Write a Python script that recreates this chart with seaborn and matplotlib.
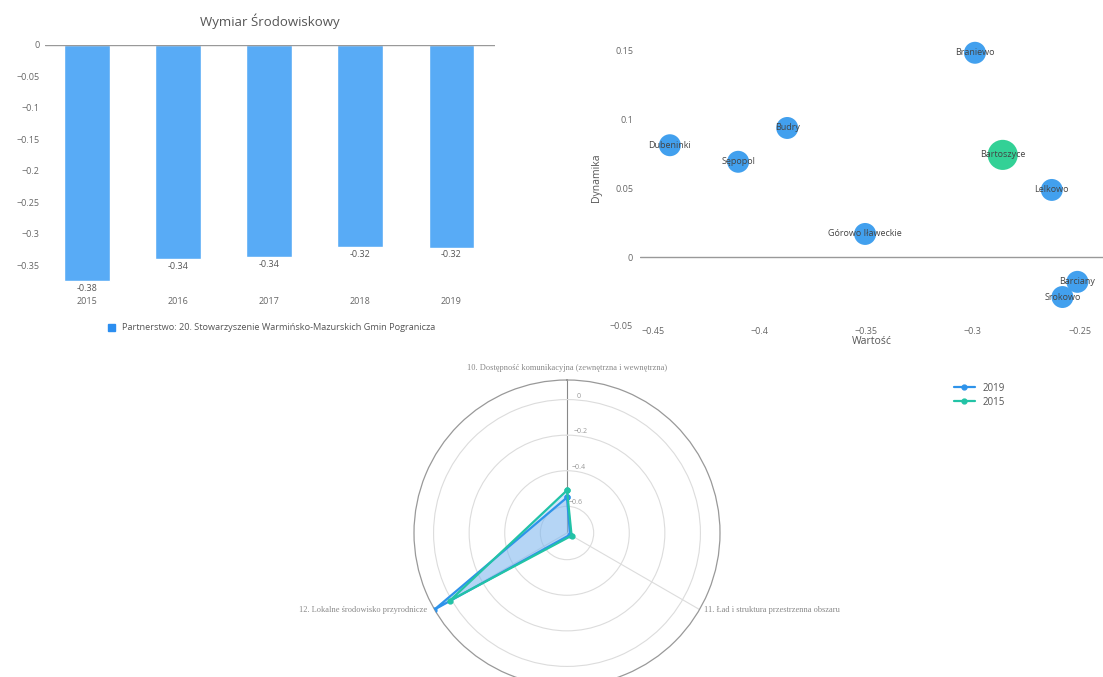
import numpy as np
import pandas as pd
import matplotlib
matplotlib.use("Agg")
import matplotlib.pyplot as plt
from matplotlib.patches import Patch
from matplotlib.lines import Line2D
import seaborn as sns

# --- dane: wykres slupkowy ---
lata = ["2015", "2016", "2017", "2018", "2019"]
wymiar_srod = [-0.375, -0.34, -0.337, -0.321, -0.322]
etykiety_slupkow = ["-0.38", "-0.34", "-0.34", "-0.32", "-0.32"]
nazwa_partnerstwa = "Partnerstwo: 20. Stowarzyszenie Warmińsko-Mazurskich Gmin Pogranicza"

# --- dane: wykres punktowy ---
gminy = ["Braniewo", "Budry", "Dubeninki", "Sępopol", "Bartoszyce",
         "Lelkowo", "Górowo Iławeckie", "Barciany", "Srokowo"]
wartosc = [-0.299, -0.387, -0.442, -0.410, -0.286, -0.263, -0.3505, -0.251, -0.258]
dynamika = [0.148, 0.0935, 0.081, 0.069, 0.074, 0.0486, 0.0167, -0.018, -0.029]
grupa = ["gmina", "gmina", "gmina", "gmina", "wybrana",
         "gmina", "gmina", "gmina", "gmina"]

# --- dane: wykres radarowy ---
wymiary = ["10. Dostępność komunikacyjna (zewnętrzna i wewnętrzna)",
           "11. Ład i struktura przestrzenna obszaru",
           "12. Lokalne środowisko przyrodnicze"]
radar_2019 = [-0.55, -0.73, 0.11]
radar_2015 = [-0.51, -0.72, 0.01]

sns.set_theme(style="white")
plt.rcParams["font.family"] = ["Open Sans", "DejaVu Sans"]

W, H = 1103, 677
fig = plt.figure(figsize=(W / 100, H / 100), dpi=100)
fig.patch.set_facecolor("white")

def box(x0, y0, x1, y1):
    return [x0 / W, 1 - y1 / H, (x1 - x0) / W, (y1 - y0) / H]

# ---------- wykres slupkowy ----------
ax1 = fig.add_axes(box(45, 45, 495, 284))
kolor_slupka = "#58abf6"
sns.barplot(x=lata, y=wymiar_srod, color=kolor_slupka, width=0.5,
            saturation=1, ax=ax1)
ax1.set_xlim(-0.46, 4.48)
ax1.set_ylim(-0.38, 0)
ax1.set_yticks([0, -0.05, -0.1, -0.15, -0.2, -0.25, -0.3, -0.35])
ax1.set_yticklabels(["0", "−0.05", "−0.1", "−0.15", "−0.2", "−0.25", "−0.3", "−0.35"])
for s in ax1.spines.values():
    s.set_visible(False)
ax1.axhline(0, color="#999999", lw=1)
ax1.tick_params(axis="y", labelsize=6.5, colors="#666666", pad=4, length=0)
ax1.tick_params(axis="x", labelsize=6.5, colors="#666666", pad=9, length=0)
for i, (v, lab) in enumerate(zip(wymiar_srod, etykiety_slupkow)):
    ax1.annotate(lab, xy=(i, v), xytext=(0, -2), textcoords="offset points",
                 ha="center", va="top", fontsize=6.5, color="#555555",
                 annotation_clip=False)
ax1.set_title("Wymiar Środowiskowy", fontsize=9.5, color="#555555", pad=14)
fig.legend(handles=[Patch(color="#2b8ef0")], labels=[nazwa_partnerstwa],
           loc="center left", bbox_to_anchor=(100 / W, 1 - 328 / H),
           frameon=False, fontsize=6.6, handlelength=0.7, handleheight=0.7,
           labelcolor="#555555")

# ---------- wykres punktowy ----------
ax2 = fig.add_axes(box(640, 30, 1103, 326))
df = pd.DataFrame({"gmina": gminy, "Wartość": wartosc,
                   "Dynamika": dynamika, "grupa": grupa})
sns.scatterplot(data=df, x="Wartość", y="Dynamika", hue="grupa", size="grupa",
                palette={"gmina": "#42a0ee", "wybrana": "#33d196"},
                sizes={"gmina": 250, "wybrana": 470}, linewidth=0,
                legend=False, ax=ax2)
for _, r in df.iterrows():
    ax2.text(r["Wartość"], r["Dynamika"], r["gmina"], ha="center", va="center",
             fontsize=6.5, color="#444444")
ax2.set_xlim(-0.456, -0.239)
ax2.set_ylim(-0.05, 0.1645)
ax2.set_xticks([-0.45, -0.4, -0.35, -0.3, -0.25])
ax2.set_xticklabels(["−0.45", "−0.4", "−0.35", "−0.3", "−0.25"])
ax2.set_yticks([-0.05, 0, 0.05, 0.1, 0.15])
ax2.set_yticklabels(["−0.05", "0", "0.05", "0.1", "0.15"])
for s in ax2.spines.values():
    s.set_visible(False)
ax2.axhline(0, color="#999999", lw=1)
ax2.tick_params(axis="both", labelsize=6.5, colors="#666666", length=0)
ax2.tick_params(axis="x", pad=1)
ax2.tick_params(axis="y", pad=5)
ax2.set_xlabel("Wartość", fontsize=7.5, color="#555555", labelpad=0)
ax2.set_ylabel("Dynamika", fontsize=7.5, color="#555555", labelpad=6)

# ---------- wykres radarowy ----------
ax3 = fig.add_axes(box(414, 380, 720, 686), projection="polar")
rmin, rmax = -0.75, 0.11
katy = np.linspace(0, 2 * np.pi, len(wymiary), endpoint=False)
ax3.set_theta_offset(np.pi / 2)
ax3.set_theta_direction(-1)
ax3.set_ylim(rmin, rmax)

kat_z = np.append(katy, katy[0])
for wart, kol, rok in [(radar_2019, "#2e93ea", "2019"), (radar_2015, "#22c3a6", "2015")]:
    w = np.append(wart, wart[0])
    ax3.fill(kat_z, w, color="#7fb8f0", alpha=0.35, zorder=2)
    ax3.plot(kat_z, w, color=kol, lw=1.6, marker="o", markersize=3.5,
             label=rok, zorder=3)

ax3.set_xticks(katy)
ax3.set_xticklabels([])
ax3.set_rgrids([-0.6, -0.4, -0.2, 0], labels=["−0.6", "−0.4", "−0.2", "0"],
               angle=4, fontsize=5, color="#999999")
for lab in ax3.get_yticklabels():
    lab.set_rotation(-90)
ax3.grid(True, color="#dcdcdc", lw=0.8)
ax3.xaxis.get_gridlines()[0].set_color("#888888")
ax3.spines["polar"].set_color("#999999")
ax3.spines["polar"].set_linewidth(0.9)
ax3.set_facecolor("white")

ustaw = [((0, 6), "center", "bottom"), ((3, 0), "left", "center"),
         ((-5, 0), "right", "center")]
for k, nazwa, (off, ha, va) in zip(katy, wymiary, ustaw):
    ax3.annotate(nazwa, xy=(k, rmax), xytext=off, textcoords="offset points",
                 ha=ha, va=va, fontsize=6, color="#888888",
                 family=["Liberation Serif", "DejaVu Serif"],
                 annotation_clip=False)

fig.legend(handles=[Line2D([], [], color="#2e93ea", marker="o", markersize=3.5, lw=1.6),
                    Line2D([], [], color="#22c3a6", marker="o", markersize=3.5, lw=1.6)],
           labels=["2019", "2015"], loc="upper left",
           bbox_to_anchor=(945 / W, 1 - 374 / H), frameon=False, fontsize=7,
           handlelength=2.2, labelspacing=0.3, labelcolor="#555555")

fig.savefig("out.png", dpi=100, facecolor="white")
